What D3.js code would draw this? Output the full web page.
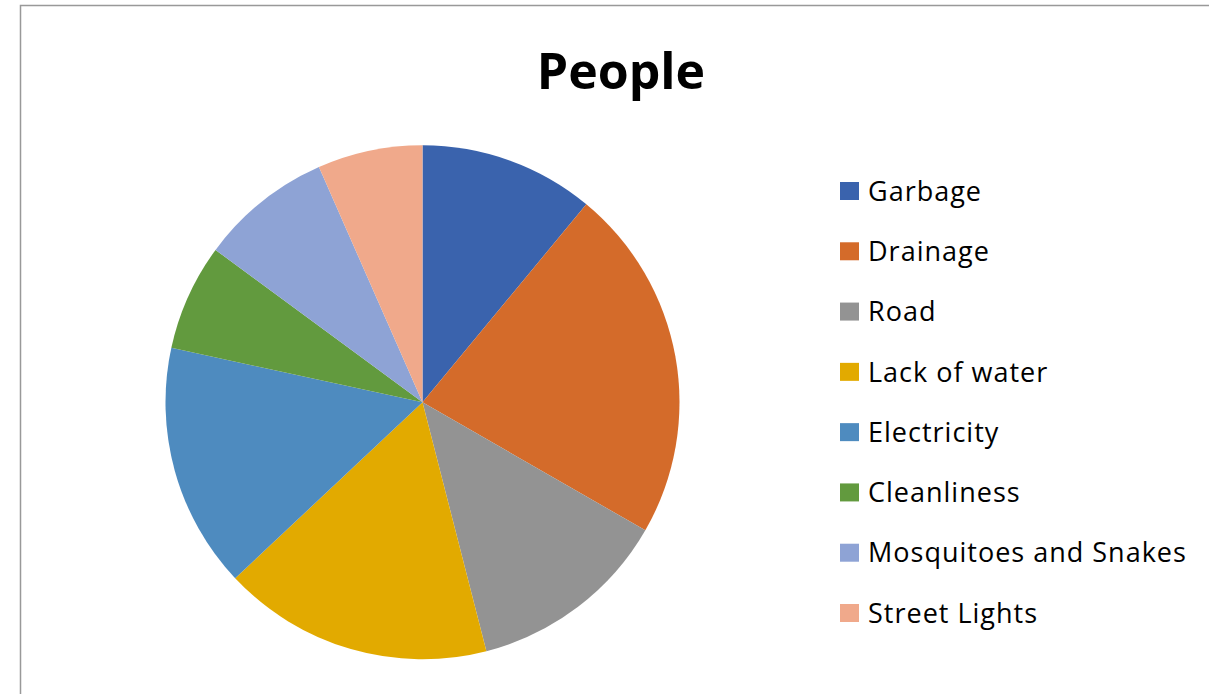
<!DOCTYPE html>
<html>
<head>
<meta charset="utf-8">
<script src="https://cdn.jsdelivr.net/npm/d3@7"></script>
<style>
  html, body { margin: 0; padding: 0; background: #fff; }
  svg { display: block; }
</style>
</head>
<body>
<script>
// slice data (percent of people)
const categories = ["Garbage", "Drainage", "Road", "Lack of water", "Electricity", "Cleanliness", "Mosquitoes and Snakes", "Street Lights"];
const values = [11, 22.3, 12.7, 17, 15.4, 6.7, 8.3, 6.6];
const colors = ["#3A63AD", "#D46B2A", "#939393", "#E2AA00", "#4E8BBF", "#629A3E", "#8EA3D5", "#F0A98B"];
const title = "People";

const W = 1209, H = 694;
const svg = d3.select("body").append("svg").attr("width", W).attr("height", H);

// chart frame (top + left edges show in the crop)
svg.append("path")
  .attr("d", `M20.5,${H} V5.5 H${W}`)
  .attr("fill", "none")
  .attr("stroke", "#999")
  .attr("stroke-width", 1.5);

svg.append("text")
  .attr("x", 621).attr("y", 89)
  .attr("text-anchor", "middle")
  .attr("font-family", "'Open Sans', sans-serif")
  .attr("font-weight", "bold")
  .attr("font-size", 50)
  .attr("fill", "#000")
  .text(title);

const cx = 422.5, cy = 402.3, r = 257;
const color = d3.scaleOrdinal().domain(categories).range(colors);

const pie = d3.pie().sort(null).value(d => d.v);
const arc = d3.arc().innerRadius(0).outerRadius(r);
const data = categories.map((c, i) => ({ c: c, v: values[i] }));

svg.append("g")
  .attr("transform", `translate(${cx},${cy})`)
  .selectAll("path")
  .data(pie(data))
  .join("path")
  .attr("d", arc)
  .attr("fill", d => color(d.data.c));

// legend
const ly = d3.scalePoint().domain(categories).range([191, 613]);
const leg = svg.append("g").selectAll("g")
  .data(categories)
  .join("g")
  .attr("transform", c => `translate(840,${ly(c)})`);

leg.append("rect")
  .attr("x", 0).attr("y", -9)
  .attr("width", 19).attr("height", 18)
  .attr("fill", c => color(c));

leg.append("text")
  .attr("x", 28).attr("y", 0)
  .attr("dy", "0.36em")
  .attr("font-family", "'Open Sans', sans-serif")
  .attr("font-size", 27)
  .attr("letter-spacing", 1)
  .attr("fill", "#000")
  .text(c => c);
</script>
</body>
</html>
